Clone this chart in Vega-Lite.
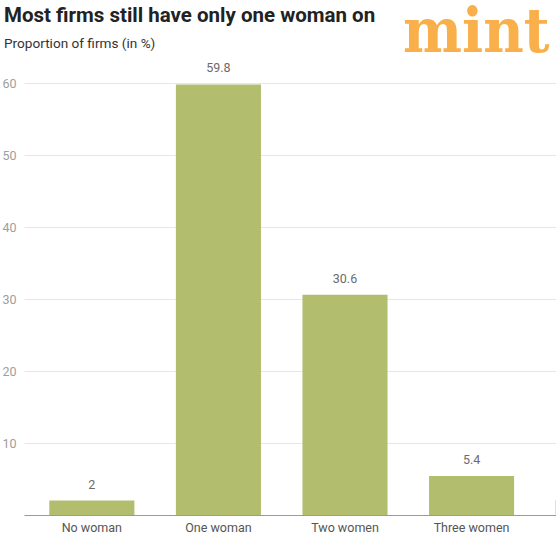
{
  "$schema": "https://vega.github.io/schema/vega-lite/v6.json",
  "title": {
    "text": "Most firms still have only one woman on",
    "subtitle": "Proportion of firms (in %)",
    "anchor": "start",
    "frame": "group",
    "dx": -20,
    "offset": -49,
    "font": "Roboto",
    "fontSize": 20.5,
    "fontWeight": "bold",
    "color": "#222222",
    "subtitleFont": "Roboto",
    "subtitleFontSize": 13.6,
    "subtitleColor": "#333333",
    "subtitlePadding": 11
  },
  "width": 532,
  "height": 432,
  "autosize": {"type": "none"},
  "padding": {"left": 24, "right": 0, "top": 83, "bottom": 21},
  "background": "#ffffff",
  "view": {"stroke": null},
  "config": {"font": "Roboto"},
  "layer": [
    {
      "data": {
        "values": [
          {"category": "No woman", "value": 2},
          {"category": "One woman", "value": 59.8},
          {"category": "Two women", "value": 30.6},
          {"category": "Three women", "value": 5.4},
          {"category": "Four women", "value": 2.1}
        ]
      },
      "encoding": {
        "x": {
          "field": "category",
          "type": "nominal",
          "sort": null,
          "scale": {"range": [0, 642], "paddingInner": 0.328, "paddingOuter": 0.2},
          "axis": {
            "title": null,
            "labelAngle": 0,
            "labelColor": "#555555",
            "labelFontSize": 12.5,
            "labelPadding": 6,
            "ticks": false,
            "domainColor": "#9a9a9a",
            "domainWidth": 1.2
          }
        },
        "y": {
          "field": "value",
          "type": "quantitative",
          "scale": {"domain": [0, 60]},
          "axis": {
            "title": null,
            "values": [0, 10, 20, 30, 40, 50, 60],
            "labelExpr": "datum.value == 0 ? '' : datum.label",
            "labelColor": "#9e9e9e",
            "labelFontSize": 12.5,
            "labelPadding": 8,
            "ticks": false,
            "domain": false,
            "gridColor": "#e6e6e6"
          }
        }
      },
      "layer": [
        {"mark": {"type": "bar", "color": "#b2bd6d", "clip": true}},
        {
          "mark": {"type": "text", "baseline": "alphabetic", "dy": -12, "fontSize": 12.5, "color": "#6b6b6b"},
          "encoding": {"text": {"field": "value", "type": "quantitative"}}
        }
      ]
    },
    {
      "data": {"values": [{"logo": "mint"}]},
      "mark": {
        "type": "text",
        "align": "left",
        "baseline": "alphabetic",
        "font": "DejaVu Serif Condensed",
        "fontWeight": "bold",
        "fontSize": 62,
        "color": "#f9b04a",
        "x": 379,
        "y": -31
      },
      "encoding": {"text": {"field": "logo"}}
    }
  ]
}
